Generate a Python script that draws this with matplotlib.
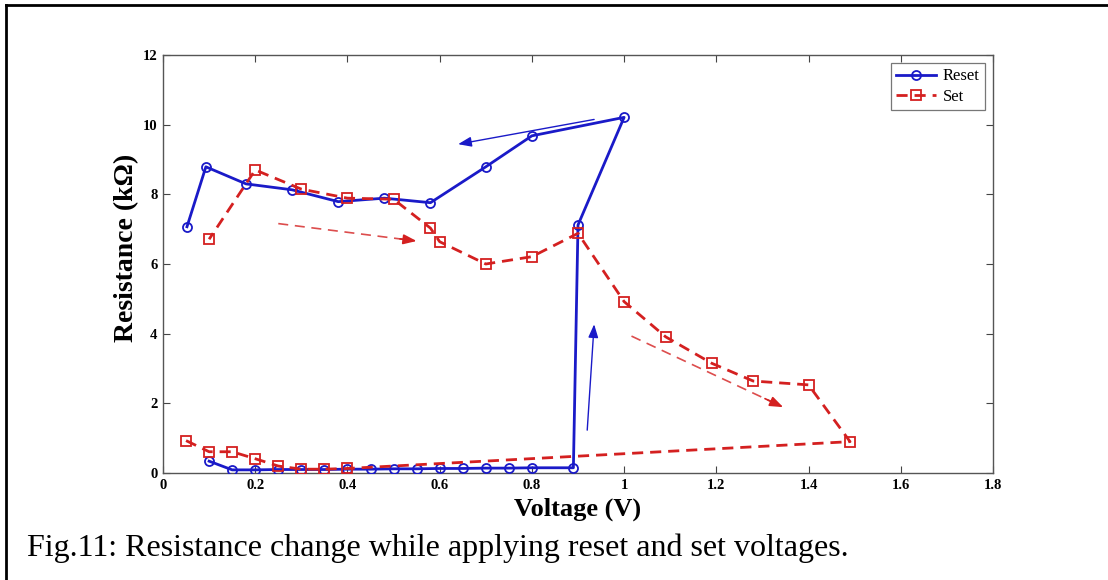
import matplotlib
matplotlib.use("Agg")
import matplotlib.pyplot as plt
from matplotlib.lines import Line2D

# Reset sweep (blue, solid, circles)
reset_v = [0.10, 0.15, 0.20, 0.25, 0.30, 0.35, 0.40, 0.45, 0.50, 0.55, 0.60, 0.65, 0.70, 0.75, 0.80, 0.89,
           0.90, 1.00, 0.80, 0.70, 0.58, 0.48, 0.38, 0.28, 0.18, 0.093, 0.052]
reset_r = [0.34, 0.09, 0.09, 0.10, 0.10, 0.10, 0.11, 0.11, 0.12, 0.12, 0.13, 0.13, 0.14, 0.14, 0.15, 0.15,
           7.12, 10.21, 9.68, 8.79, 7.76, 7.89, 7.79, 8.13, 8.30, 8.79, 7.07]

# Set sweep (red, dashed, squares)
set_v = [0.05, 0.10, 0.15, 0.20, 0.25, 0.30, 0.35, 0.40,
         1.49, 1.40, 1.28, 1.19, 1.09, 1.00, 0.90, 0.80, 0.70, 0.60, 0.58, 0.50, 0.40, 0.30, 0.20, 0.10]
set_r = [0.93, 0.61, 0.61, 0.41, 0.20, 0.11, 0.11, 0.13,
         0.90, 2.53, 2.64, 3.15, 3.91, 4.92, 6.88, 6.21, 6.00, 6.64, 7.03, 7.86, 7.89, 8.15, 8.70, 6.71]

# Direction arrows: (start x, start y, tip x, tip y, colour, dashed)
arrows = [
    (0.935, 10.15, 0.64, 9.44, "#1a1ac8", False),
    (0.25, 7.16, 0.55, 6.66, "#d42020", True),
    (0.92, 1.23, 0.935, 4.27, "#1a1ac8", False),
    (1.016, 3.93, 1.345, 1.89, "#d42020", True),
]

x_ticks = [0, 0.2, 0.4, 0.6, 0.8, 1.0, 1.2, 1.4, 1.6, 1.8]
x_tick_labels = ["0", "0.2", "0.4", "0.6", "0.8", "1", "1.2", "1.4", "1.6", "1.8"]
y_ticks = [0, 2, 4, 6, 8, 10, 12]

serif = ["Liberation Serif", "DejaVu Serif"]

fig = plt.figure(figsize=(11.08, 5.8), dpi=100)
ax = fig.add_axes([163/1108, 1 - 473/580, (993-163)/1108, (473-55)/580])

blue = "#1a1ac8"
red = "#d42020"

ax.plot(reset_v, reset_r, color=blue, lw=2, marker="o", ms=6.5, mfc="none", mec=blue, mew=1.3,
        label="Reset", zorder=3)
ax.plot(set_v, set_r, color=red, lw=2, ls=(0, (4, 2.5)), marker="s", ms=7.5, mfc="none", mec=red, mew=1.3,
        label="Set", zorder=4)

for x0, y0, x1, y1, c, dashed in arrows:
    if dashed:
        ax.plot([x0, x1 - (x1 - x0) * 0.08], [y0, y1 - (y1 - y0) * 0.08], color=c, lw=1.2,
                ls=(0, (6, 4)), alpha=0.8, zorder=2)
        ax.annotate("", xy=(x1, y1), xytext=(x1 - (x1 - x0) * 0.12, y1 - (y1 - y0) * 0.12),
                    arrowprops=dict(arrowstyle="-|>,head_length=0.8,head_width=0.3", color=c, lw=1.2,
                                    shrinkA=0, shrinkB=0), zorder=2)
    else:
        ax.annotate("", xy=(x1, y1), xytext=(x0, y0),
                    arrowprops=dict(arrowstyle="-|>,head_length=0.8,head_width=0.3", color=c, lw=1.0,
                                    shrinkA=0, shrinkB=0), zorder=2)

ax.set_xlim(0, 1.8)
ax.set_ylim(0, 12)
ax.set_xticks(x_ticks)
ax.set_xticklabels(x_tick_labels)
ax.set_yticks(y_ticks)
ax.tick_params(direction="in", top=True, right=True, length=5, width=0.8, color="#444444", pad=4)
for lab in ax.get_xticklabels() + ax.get_yticklabels():
    lab.set_family(serif)
    lab.set_fontweight("bold")
    lab.set_fontsize(10.5)
for s in ax.spines.values():
    s.set_color("#555555")
    s.set_linewidth(1.0)

fig.text(578/1108, 1 - 509/580, "Voltage (V)", family=serif, fontweight="bold", fontsize=19,
         ha="center", va="center")
fig.text(127/1108, 1 - 248/580, "Resistance (k\u03a9)", family=serif, fontweight="bold", fontsize=20,
         ha="center", va="center", rotation=90)

leg = ax.legend(loc="upper right", prop={"family": serif, "size": 12}, frameon=True, fancybox=False,
                edgecolor="#555555", handlelength=2.4, borderaxespad=0.5, borderpad=0.3, labelspacing=0.25,
                handletextpad=0.4)
leg.get_frame().set_linewidth(0.9)

fig.text(27/1108, 1 - 548/580, "Fig.11: Resistance change while applying reset and set voltages.",
         family=serif, fontsize=23, va="center", ha="left")

# outer border (top and left)
fig.add_artist(Line2D([6/1108, 1], [1 - 5/580, 1 - 5/580], transform=fig.transFigure, color="black", lw=2))
fig.add_artist(Line2D([6/1108, 6/1108], [0, 1 - 5/580], transform=fig.transFigure, color="black", lw=2))

fig.savefig("out.png", dpi=100)
